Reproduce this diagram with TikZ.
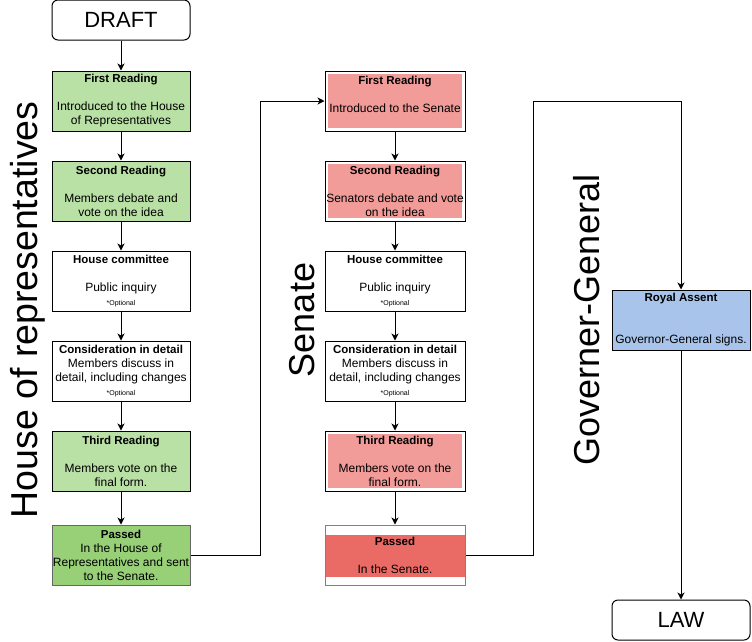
\documentclass[tikz,border=0pt]{standalone}
\usepackage{fontspec}
\setmainfont{Liberation Sans}
\usetikzlibrary{arrows.meta}

\definecolor{hgreen}{HTML}{B9E0A5}
\definecolor{hgreendark}{HTML}{97D077}
\definecolor{sred}{HTML}{F19C99}
\definecolor{sreddark}{HTML}{EA6B66}
\definecolor{gblue}{HTML}{A9C4EB}

\newcommand{\ttl}[1]{{\fontsize{11.5}{14}\selectfont\bfseries #1}}
\newcommand{\opt}{{\fontsize{7}{9}\selectfont *Optional}}

\tikzset{
  stage/.style={draw, line width=1pt, minimum width=138, inner sep=0pt,
    minimum height=60, align=center, font=\fontsize{12}{14}\selectfont},
  wide/.style={minimum width=140},
  endbox/.style={draw, rounded corners=6, line width=1pt, minimum width=138,
    minimum height=40, font=\fontsize{22}{24}\selectfont},
  inset/.style={path picture={\fill[#1]
    ([shift={(3pt,-3pt)}]path picture bounding box.north west) rectangle
    ([shift={(-3pt,3pt)}]path picture bounding box.south east);}},
  band/.style={path picture={\fill[#1]
    ([yshift=-10pt]path picture bounding box.north west) rectangle
    ([yshift=8pt]path picture bounding box.south east);}},
  chamber/.style={rotate=90, font=\fontsize{36}{40}\selectfont},
  arr/.style={-{Stealth[length=7pt,width=7pt,inset=2pt]}, line width=1pt},
}

\begin{document}
\begin{tikzpicture}[x=1pt,y=-1pt]
  \useasboundingbox (0,0) rectangle (752,641);

  % house of representatives
  \node[endbox] (draft) at (121,20) {DRAFT};
  \node[stage, fill=hgreen] (hfirst) at (121,101)
    {\ttl{First Reading}\\[14pt] Introduced to the House\\ of Representatives};
  \node[stage, fill=hgreen] (hsecond) at (121,191)
    {\ttl{Second Reading}\\[14pt] Members debate and\\ vote on the idea};
  \node[stage] (hcommittee) at (121,281)
    {\ttl{House committee}\\[14pt] Public inquiry\\ \opt};
  \node[stage] (hdetail) at (121,371)
    {\ttl{Consideration in detail}\\ Members discuss in\\ detail, including changes\\ \opt};
  \node[stage, fill=hgreen] (hthird) at (121,461)
    {\ttl{Third Reading}\\[14pt] Members vote on the\\ final form.};
  \node[stage, fill=hgreendark, draw=black!60] (hpassed) at (121,555)
    {\ttl{Passed}\\ In the House of\\ Representatives and sent\\ to the Senate.};

  % senate
  \node[stage, wide, inset=sred] (sfirst) at (395,101)
    {\ttl{First Reading}\\[14pt] Introduced to the Senate\\ \mbox{}};
  \node[stage, wide, inset=sred] (ssecond) at (395,191)
    {\ttl{Second Reading}\\[14pt] Senators debate and vote\\ on the idea};
  \node[stage, wide] (scommittee) at (395,281)
    {\ttl{House committee}\\[14pt] Public inquiry\\ \opt};
  \node[stage, wide] (sdetail) at (395,371)
    {\ttl{Consideration in detail}\\ Members discuss in\\ detail, including changes\\ \opt};
  \node[stage, wide, inset=sred] (sthird) at (395,461)
    {\ttl{Third Reading}\\[14pt] Members vote on the\\ final form.};
  \node[stage, wide, band=sreddark, draw=black!50] (spassed) at (395,555)
    {\ttl{Passed}\\[14pt] In the Senate.};

  % governor-general
  \node[stage, fill=gblue] (royal) at (681,320)
    {\ttl{Royal Assent}\\[28pt] Governor-General signs.};
  \node[endbox] (law) at (681,620) {LAW};

  % chamber labels
  \node[chamber, font=\fontsize{37.5}{40}\selectfont] (hlabel) at (28,310) {House of representatives};
  \node[chamber] (slabel) at (302,320) {Senate};
  \node[chamber] (glabel) at (587,320) {Governer-General};

  % connectors
  \draw[arr] (draft) -- (hfirst);
  \draw[arr] (hfirst) -- (hsecond);
  \draw[arr] (hsecond) -- (hcommittee);
  \draw[arr] (hcommittee) -- (hdetail);
  \draw[arr] (hdetail) -- (hthird);
  \draw[arr] (hthird) -- (hpassed);
  \draw[arr] (hpassed.east) -- ++(70,0) |- (sfirst.west);

  \draw[arr] (sfirst) -- (ssecond);
  \draw[arr] (ssecond) -- (scommittee);
  \draw[arr] (scommittee) -- (sdetail);
  \draw[arr] (sdetail) -- (sthird);
  \draw[arr] (sthird) -- (spassed);
  \draw[arr] (spassed.east) -- ++(68,0) |- (sfirst.east -| royal) -- (royal);

  \draw[arr] (royal) -- (law);

\end{tikzpicture}
\end{document}
